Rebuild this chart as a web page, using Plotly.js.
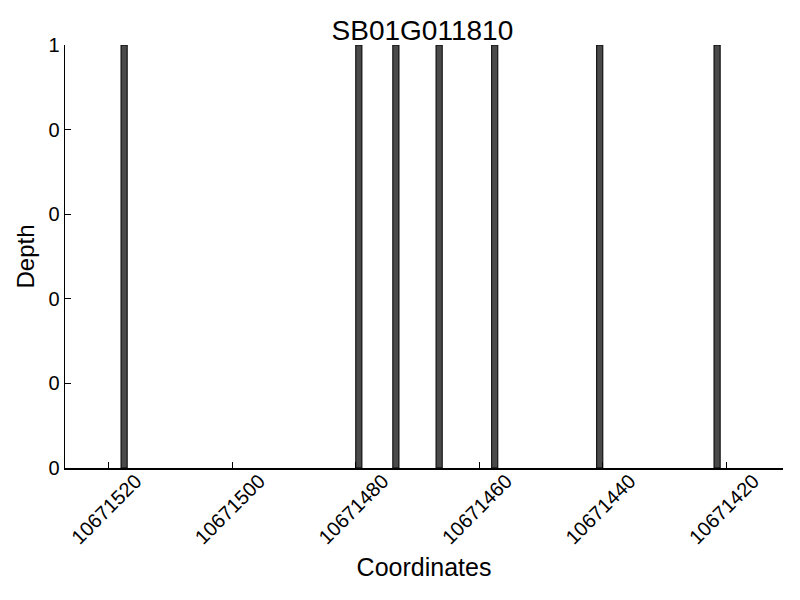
<!DOCTYPE html>
<html>
<head>
<meta charset="utf-8">
<script src="https://cdn.plot.ly/plotly-3.0.1.min.js"></script>
<style>html,body{margin:0;padding:0;background:#fff;}#chart{width:800px;height:600px;}</style>
</head>
<body>
<div id="chart"></div>
<script>
// Data
const coordinates = [10671517, 10671479, 10671473, 10671466, 10671457, 10671440, 10671421];
const depth = [1, 1, 1, 1, 1, 1, 1];
const xTickVals = [10671520, 10671500, 10671480, 10671460, 10671440, 10671420];
const xTickText = ["10671520", "10671500", "10671480", "10671460", "10671440", "10671420"];
const yTickVals = [0, 0.2, 0.4, 0.6, 0.8, 1];
const yTickText = ["0", "0", "0", "0", "0", "1"];

const font = "Liberation Sans, Arial, sans-serif";

const trace = {
  type: 'bar',
  x: coordinates,
  y: depth,
  width: 1,
  offset: 0,
  marker: {color: '#4a4a4a', line: {color: '#000', width: 1}},
  hoverinfo: 'x+y'
};

const layout = {
  width: 800, height: 600,
  margin: {l: 65, r: 17, t: 45, b: 132},
  paper_bgcolor: '#fff', plot_bgcolor: '#fff',
  showlegend: false,
  bargap: 0,
  font: {family: font, color: '#000'},
  title: {text: 'SB01G011810', font: {family: font, size: 28, color: '#000'}, x: 0.528, xanchor: 'center', y: 0.95, yanchor: 'middle'},
  xaxis: {
    range: [10671527.07, 10671410.83],
    tickvals: xTickVals, ticktext: xTickText,
    tickangle: -45,
    ticklabelshift: -27,
    ticklabelstandoff: -8,
    ticks: 'inside', ticklen: 6, tickcolor: '#000', tickwidth: 1,
    showline: true, linecolor: '#000', linewidth: 1.5,
    showgrid: false, zeroline: false,
    tickfont: {family: font, size: 20, color: '#000'},
    title: {text: 'Coordinates', font: {family: font, size: 25, color: '#000'}, standoff: 11}
  },
  yaxis: {
    range: [0, 1],
    tickvals: yTickVals, ticktext: yTickText,
    ticks: 'inside', ticklen: 6, tickcolor: '#000', tickwidth: 1,
    showline: true, linecolor: '#000', linewidth: 1.5,
    showgrid: false, zeroline: false,
    tickfont: {family: font, size: 20, color: '#000'},
    title: {text: 'Depth', font: {family: font, size: 24, color: '#000'}, standoff: 7}
  }
};

Plotly.newPlot('chart', [trace], layout, {displayModeBar: false, staticPlot: true});
</script>
</body>
</html>
